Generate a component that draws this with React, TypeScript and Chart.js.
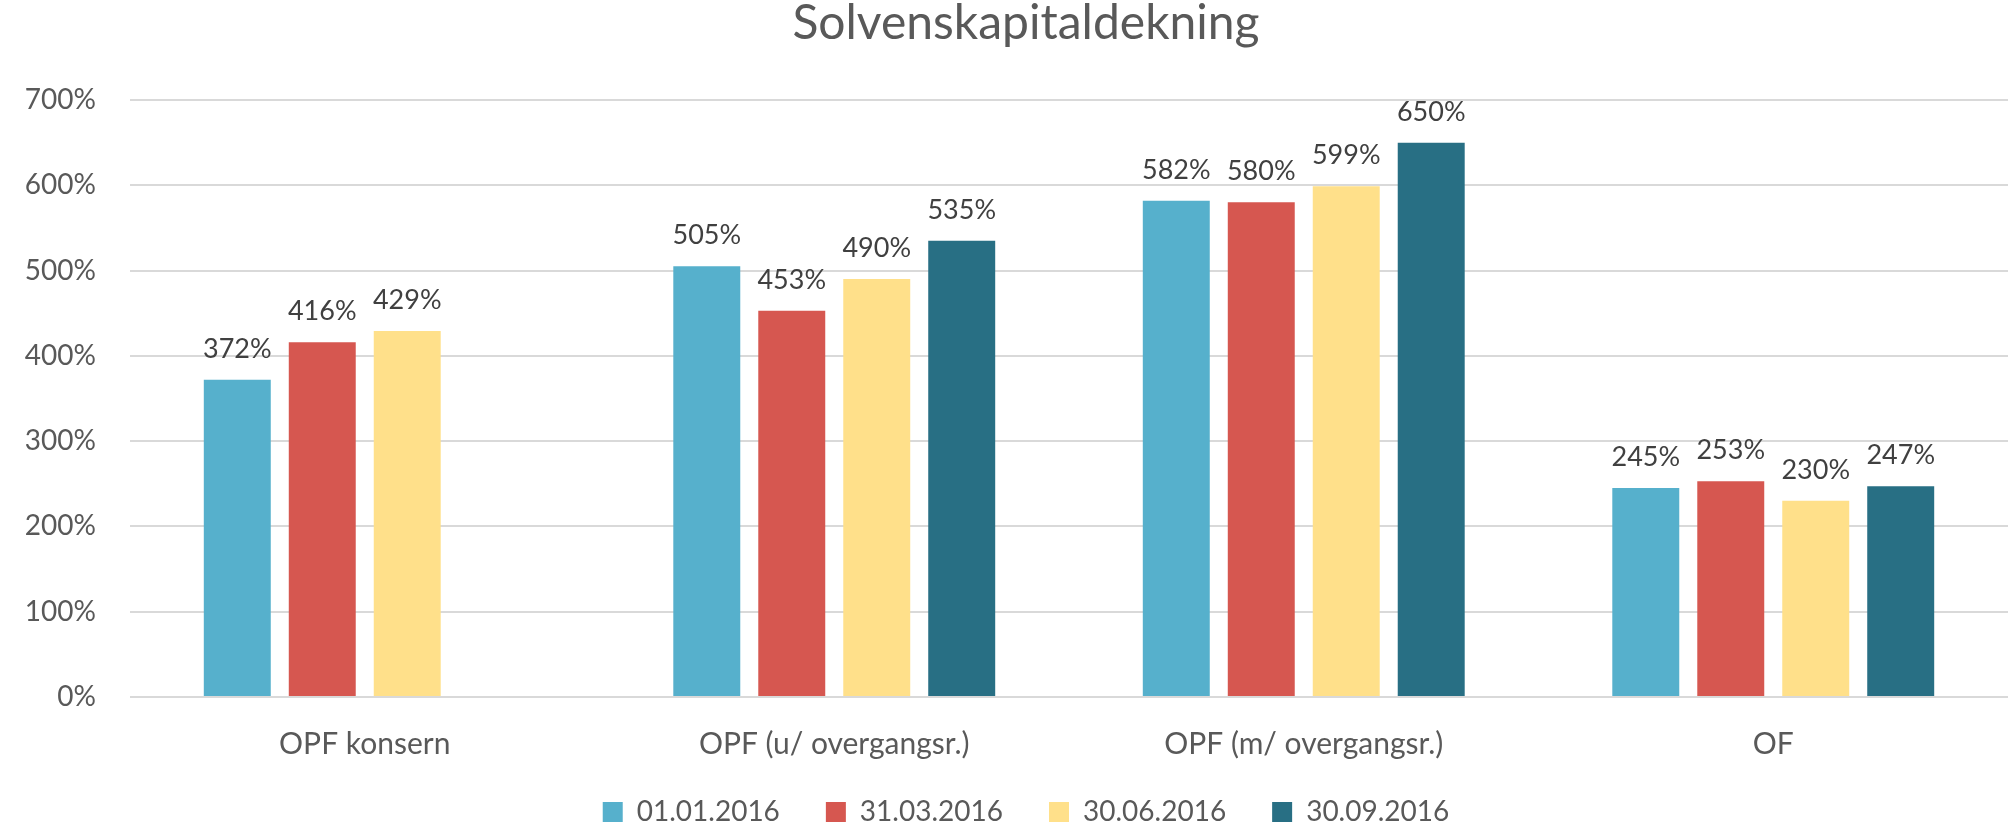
import React, { useEffect, useRef } from 'react';
import { Chart, registerables } from 'chart.js';

Chart.register(...registerables);

const categories = ['OPF konsern', 'OPF (u/ overgangsr.)', 'OPF (m/ overgangsr.)', 'OF'];
const seriesLabels = ['01.01.2016', '31.03.2016', '30.06.2016', '30.09.2016'];
const series1 = [372, 505, 582, 245];
const series2 = [416, 453, 580, 253];
const series3 = [429, 490, 599, 230];
const series4 = [null, 535, 650, 247];
const seriesColors = ['#56B0CC', '#D65750', '#FFE08A', '#286F84'];
const yTicks = [0, 100, 200, 300, 400, 500, 600, 700];

const FONT = 'Lato, "Open Sans", sans-serif';

const valueLabelPlugin = {
  id: 'valueLabels',
  afterDatasetsDraw(chart: any) {
    const ctx = chart.ctx;
    ctx.save();
    ctx.font = `27px ${FONT}`;
    ctx.fillStyle = '#404040';
    ctx.textAlign = 'center';
    ctx.textBaseline = 'alphabetic';
    chart.data.datasets.forEach((ds: any, di: number) => {
      const meta = chart.getDatasetMeta(di);
      meta.data.forEach((el: any, i: number) => {
        const v = ds.data[i];
        if (v === null || v === undefined) return;
        ctx.fillText(`${v}%`, el.x, el.y - 22);
      });
    });
    ctx.restore();
  },
};

export default function App() {
  const ref = useRef<HTMLCanvasElement>(null);

  useEffect(() => {
    if (!ref.current) return;
    const allSeries = [series1, series2, series3, series4];
    const chart = new Chart(ref.current, {
      type: 'bar',
      data: {
        labels: categories,
        datasets: allSeries.map((d, i) => ({
          label: seriesLabels[i],
          data: d,
          backgroundColor: seriesColors[i],
          borderWidth: 0,
          categoryPercentage: 0.724,
          barPercentage: 0.788,
        })),
      },
      options: {
        responsive: false,
        animation: false,
        layout: { padding: { left: 40, right: -4, top: 0, bottom: -8 } },
        plugins: {
          title: {
            display: true,
            text: 'Solvenskapitaldekning',
            color: '#595959',
            font: { family: FONT, size: 48, weight: 'normal', lineHeight: 1.0 },
            padding: { top: 0, bottom: 52 },
          },
          legend: {
            position: 'bottom',
            labels: {
              boxWidth: 20,
              boxHeight: 20,
              padding: 46,
              color: '#595959',
              font: { family: FONT, size: 28, lineHeight: 1.0 },
            },
          },
          tooltip: { enabled: false },
        },
        scales: {
          x: {
            grid: { display: false, drawTicks: false },
            border: { display: false },
            afterFit: (scale: any) => {
              scale.height = 55;
              scale._computeLabelArea = () => undefined;
            },
            ticks: {
              color: '#595959',
              font: { family: FONT, size: 30, lineHeight: 1.0 },
              padding: 32,
            },
          },
          y: {
            min: yTicks[0],
            max: yTicks[yTicks.length - 1],
            afterBuildTicks: (scale: any) => {
              scale.ticks = yTicks.map((v) => ({ value: v }));
            },
            afterFit: (scale: any) => {
              scale.width = 90;
              scale._computeLabelArea = () => undefined;
            },
            grid: { color: '#D9D9D9', lineWidth: 2, drawTicks: false },
            border: { display: false },
            ticks: {
              color: '#595959',
              font: { family: FONT, size: 28 },
              padding: 34,
              callback: (v: any) => `${v}%`,
            },
          },
        },
      },
      plugins: [valueLabelPlugin],
    });
    return () => chart.destroy();
  }, []);

  return (
    <div style={{ position: 'absolute', left: 0, top: 0, width: 2008, height: 828, background: '#fff' }}>
      <canvas ref={ref} width={2008} height={828} style={{ display: 'block' }} />
    </div>
  );
}
